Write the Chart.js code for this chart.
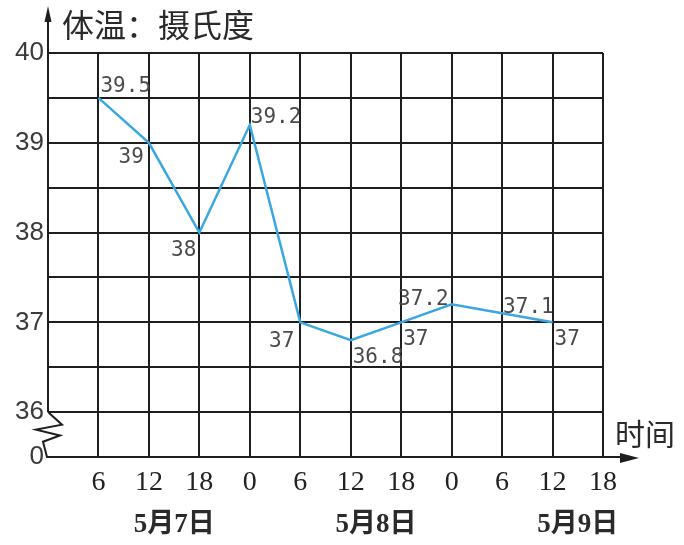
<!DOCTYPE html>
<html>
<head>
<meta charset="utf-8">
<script src="https://cdn.jsdelivr.net/npm/chart.js@4"></script>
<style>
  body { margin: 0; background: #fff; }
</style>
</head>
<body>
<canvas id="tempChart" width="684" height="545"></canvas>
<script>
// hours counted from 5/7 0:00
const hours = [6, 12, 18, 24, 30, 36, 42, 48, 54, 60];
const temps = [39.5, 39, 38, 39.2, 37, 36.8, 37, 37.2, 37.1, 37];
const valueLabels = ["39.5", "39", "38", "39.2", "37", "36.8", "37", "37.2", "37.1", "37"];
const dateLabels = ["5月7日", "5月8日", "5月9日"];
const dateHours = [15, 39, 63];
const yTitle = "体温：摄氏度";
const xTitle = "时间";

const ink = "#1e1e1e";

// where each value label sits relative to its point: [dx, dy(baseline), align]
const labelPlace = [
  [2, -6, "left"], [-5, 20, "right"], [-3, 23, "right"], [1, -2, "left"],
  [-6, 25, "right"], [2, 23, "left"], [2, 23, "left"], [-3, 1, "right"],
  [1, 0, "left"], [2, 23, "left"]
];

const decor = {
  id: "decor",
  afterDraw(chart) {
    const { ctx, scales: { x, y } } = chart;
    const x0 = x.getPixelForValue(0);
    const xEnd = x.getPixelForValue(66);
    const y36 = y.getPixelForValue(36);
    const yBase = y.getPixelForValue(35.5);
    const h = yBase - y36;
    ctx.save();
    ctx.strokeStyle = ink;
    ctx.fillStyle = ink;
    ctx.lineWidth = 2;
    ctx.lineJoin = "miter";

    // y axis up to the arrow
    ctx.beginPath();
    ctx.moveTo(x0, y36);
    ctx.lineTo(x0, 16);
    ctx.stroke();
    ctx.beginPath();
    ctx.moveTo(x0, 6);
    ctx.lineTo(x0 - 3.5, 22);
    ctx.lineTo(x0 + 3.5, 22);
    ctx.closePath();
    ctx.fill();

    // axis break between 36 and 0
    ctx.beginPath();
    ctx.moveTo(x0, y36);
    ctx.lineTo(x0 + 14, y36 + 0.28 * h);
    ctx.lineTo(x0 - 12, y36 + 0.39 * h);
    ctx.lineTo(x0 + 12, y36 + 0.52 * h);
    ctx.lineTo(x0 - 5, y36 + 0.66 * h);
    ctx.lineTo(x0 - 1, yBase);
    ctx.lineTo(x0, yBase);
    ctx.stroke();

    // x axis with arrow
    ctx.beginPath();
    ctx.moveTo(x0, yBase);
    ctx.lineTo(xEnd + 22, yBase);
    ctx.stroke();
    ctx.beginPath();
    ctx.moveTo(xEnd + 36, yBase + 1);
    ctx.lineTo(xEnd + 17, yBase - 4);
    ctx.lineTo(xEnd + 17, yBase + 6);
    ctx.closePath();
    ctx.fill();

    // axis titles
    ctx.fillStyle = "#2a2a2a";
    ctx.textBaseline = "middle";
    ctx.textAlign = "left";
    ctx.font = "32px 'Noto Sans CJK SC'";
    ctx.fillText(yTitle, x0 + 14, 25);
    ctx.font = "30px 'Noto Sans CJK SC'";
    ctx.fillText(xTitle, xEnd + 12, 434);

    // dates under the hour ticks
    ctx.textAlign = "center";
    ctx.font = "bold 27px 'Liberation Serif', 'Noto Sans CJK SC'";
    dateLabels.forEach((d, i) => {
      ctx.fillText(d, x.getPixelForValue(dateHours[i]), 525);
    });

    // value labels
    ctx.fillStyle = "#4a4a4a";
    ctx.textBaseline = "alphabetic";
    ctx.font = "21px 'DejaVu Sans Mono'";
    const meta = chart.getDatasetMeta(0);
    meta.data.forEach((pt, i) => {
      const [dx, dy, align] = labelPlace[i];
      ctx.textAlign = align;
      ctx.fillText(valueLabels[i], pt.x + dx, pt.y + dy);
    });
    ctx.restore();
  }
};

new Chart(document.getElementById("tempChart"), {
  type: "line",
  data: {
    datasets: [
      {
        data: hours.map((h, i) => ({ x: h, y: temps[i] })),
        borderColor: "#3ba7e0",
        borderWidth: 2.5,
        pointRadius: 0,
        tension: 0,
        fill: false
      }
    ]
  },
  options: {
    responsive: false,
    animation: false,
    layout: { padding: { top: 53, right: 81, left: 0, bottom: 0 } },
    plugins: { legend: { display: false }, tooltip: { enabled: false } },
    scales: {
      x: {
        type: "linear",
        min: 0,
        max: 66,
        afterFit: (s) => { s.height = 88; },
        border: { display: false },
        grid: {
          drawTicks: false,
          lineWidth: 2,
          color: (c) => (c.tick && c.tick.value === 0 ? "rgba(0,0,0,0)" : ink)
        },
        ticks: {
          stepSize: 6,
          autoSkip: false,
          maxRotation: 0,
          padding: 9,
          color: "#222",
          font: { family: "'Liberation Serif'", size: 28 },
          callback: (v) => (v === 0 ? "" : String(v % 24))
        }
      },
      y: {
        min: 35.5,
        max: 40,
        afterFit: (s) => { s.width = 48; },
        border: { display: false },
        grid: { drawTicks: false, lineWidth: 2, color: ink },
        ticks: {
          stepSize: 0.5,
          autoSkip: false,
          padding: 4,
          color: "#3a3a3a",
          font: { family: "'Liberation Sans'", size: 26 },
          callback: (v) => (v === 35.5 ? "0" : Number.isInteger(v) ? String(v) : "")
        }
      }
    }
  },
  plugins: [decor]
});
</script>
</body>
</html>
